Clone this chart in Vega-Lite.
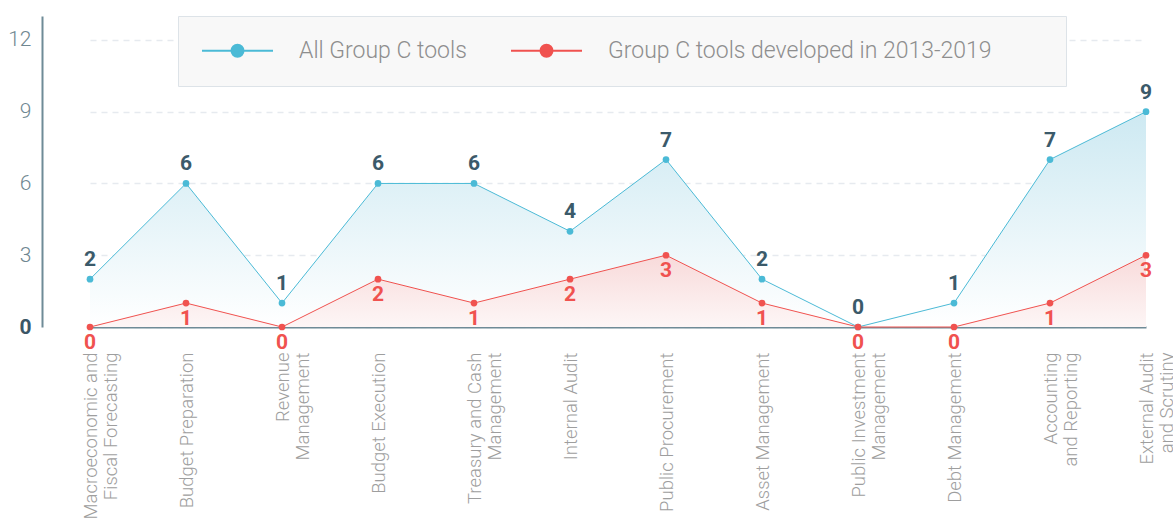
{
  "$schema": "https://vega.github.io/schema/vega-lite/v6.json",
  "width": 1120,
  "height": 311,
  "autosize": {"type": "none"},
  "padding": {"left": 42, "top": 16, "right": 11, "bottom": 196},
  "config": {"view": {"stroke": null}, "font": "Roboto"},
  "data": {"values": [
    {"cat": "Macroeconomic and|Fiscal Forecasting", "series": "All Group C tools", "value": 2},
    {"cat": "Budget Preparation", "series": "All Group C tools", "value": 6},
    {"cat": "Revenue|Management", "series": "All Group C tools", "value": 1},
    {"cat": "Budget Execution", "series": "All Group C tools", "value": 6},
    {"cat": "Treasury and Cash|Management", "series": "All Group C tools", "value": 6},
    {"cat": "Internal Audit", "series": "All Group C tools", "value": 4},
    {"cat": "Public Procurement", "series": "All Group C tools", "value": 7},
    {"cat": "Asset Management", "series": "All Group C tools", "value": 2},
    {"cat": "Public Investment|Management", "series": "All Group C tools", "value": 0},
    {"cat": "Debt Management", "series": "All Group C tools", "value": 1},
    {"cat": "Accounting|and Reporting", "series": "All Group C tools", "value": 7},
    {"cat": "External Audit|and Scrutiny", "series": "All Group C tools", "value": 9},
    {"cat": "Macroeconomic and|Fiscal Forecasting", "series": "Group C tools developed in 2013-2019", "value": 0},
    {"cat": "Budget Preparation", "series": "Group C tools developed in 2013-2019", "value": 1},
    {"cat": "Revenue|Management", "series": "Group C tools developed in 2013-2019", "value": 0},
    {"cat": "Budget Execution", "series": "Group C tools developed in 2013-2019", "value": 2},
    {"cat": "Treasury and Cash|Management", "series": "Group C tools developed in 2013-2019", "value": 1},
    {"cat": "Internal Audit", "series": "Group C tools developed in 2013-2019", "value": 2},
    {"cat": "Public Procurement", "series": "Group C tools developed in 2013-2019", "value": 3},
    {"cat": "Asset Management", "series": "Group C tools developed in 2013-2019", "value": 1},
    {"cat": "Public Investment|Management", "series": "Group C tools developed in 2013-2019", "value": 0},
    {"cat": "Debt Management", "series": "Group C tools developed in 2013-2019", "value": 0},
    {"cat": "Accounting|and Reporting", "series": "Group C tools developed in 2013-2019", "value": 1},
    {"cat": "External Audit|and Scrutiny", "series": "Group C tools developed in 2013-2019", "value": 3}
  ]},
  "encoding": {
    "x": {
      "field": "cat", "type": "nominal", "sort": null,
      "scale": {"type": "point", "range": [48, 1104], "padding": 0},
      "axis": {
        "title": null, "domainColor": "#6f8b97", "domainWidth": 2, "ticks": false, "grid": false,
        "labelAngle": -90, "labelAlign": "right", "labelBaseline": "middle", "labelPadding": 25,
        "labelFontSize": 18.5, "labelFontWeight": 300, "labelColor": "#9e9e9e", "labelLineHeight": 20,
        "labelExpr": "split(datum.label, '|')", "labelLimit": 400, "labelOverlap": false, "labelBound": false
      }
    },
    "y": {
      "field": "value", "type": "quantitative",
      "scale": {"domain": [0, 13], "nice": false},
      "axis": {
        "title": null, "values": [0, 3, 6, 9, 12], "domainColor": "#6f8b97", "domainWidth": 2, "ticks": false,
        "grid": true, "gridDash": [6, 5], "gridColor": "#e6eaef", "gridWidth": 1.5,
        "labelFontSize": 21, "labelPadding": 11,
        "labelFontWeight": {"condition": {"test": "datum.value == 0", "value": "bold"}, "value": 300},
        "labelColor": {"condition": {"test": "datum.value == 0", "value": "#3b5666"}, "value": "#6f8791"}
      }
    }
  },
  "layer": [
    {
      "transform": [{"filter": "datum.series == 'All Group C tools'"}],
      "mark": {"type": "area", "color": {"gradient": "linear", "x1": 0, "y1": 0, "x2": 0, "y2": 1,
        "stops": [{"offset": 0, "color": "#cde9f2"}, {"offset": 1, "color": "#ffffff"}]}}
    },
    {
      "transform": [{"filter": "datum.series != 'All Group C tools'"}],
      "mark": {"type": "area", "color": {"gradient": "linear", "x1": 0, "y1": 0, "x2": 0, "y2": 1,
        "stops": [{"offset": 0, "color": "#f8dada"}, {"offset": 1, "color": "#fdf6f6"}]}}
    },
    {
      "mark": {"type": "line", "strokeWidth": 1},
      "encoding": {
        "color": {
          "field": "series", "type": "nominal",
          "scale": {"domain": ["All Group C tools", "Group C tools developed in 2013-2019"], "range": ["#4bbad6", "#f0524f"]},
          "legend": {
            "orient": "none", "legendX": 136, "legendY": 0, "direction": "horizontal", "title": null,
            "symbolType": "M-1.05,0H6.05M1.9,0A0.6,0.6,0,1,1,3.1,0A0.6,0.6,0,1,1,1.9,0Z",
            "symbolSize": 400, "symbolStrokeWidth": 2,
            "labelFontSize": 23, "labelColor": "#8e8e8e", "labelFont": "Roboto", "labelFontWeight": 300,
            "labelOffset": 75, "columnPadding": 40, "padding": 23, "labelLimit": 700,
            "labelExpr": "datum.label == 'All Group C tools' ? datum.label : datum.label + '\u2800\u2800\u2800'",
            "fillColor": "#f8f8f8", "strokeColor": "#dde3e8",
            "encode": {"symbols": {"update": {
              "fill": {"scale": "color", "field": "value"},
              "stroke": {"scale": "color", "field": "value"},
              "opacity": {"value": 1}
            }}}
          }
        }
      }
    },
    {
      "transform": [{"filter": "datum.series == 'All Group C tools'"}],
      "mark": {"type": "point", "filled": true, "size": 45, "color": "#4bbad6", "opacity": 1}
    },
    {
      "transform": [{"filter": "datum.series != 'All Group C tools'"}],
      "mark": {"type": "point", "filled": true, "size": 45, "color": "#f0524f", "opacity": 1}
    },
    {
      "transform": [{"filter": "datum.series == 'All Group C tools'"}],
      "mark": {"type": "text", "dy": -19, "fontSize": 21, "fontWeight": "bold", "color": "#3b5a6a", "baseline": "middle"},
      "encoding": {"text": {"field": "value", "type": "quantitative"}}
    },
    {
      "transform": [{"filter": "datum.series != 'All Group C tools'"}],
      "mark": {"type": "text", "dy": 16, "fontSize": 21, "fontWeight": "bold", "color": "#f0524f", "baseline": "middle"},
      "encoding": {"text": {"field": "value", "type": "quantitative"}}
    }
  ]
}
